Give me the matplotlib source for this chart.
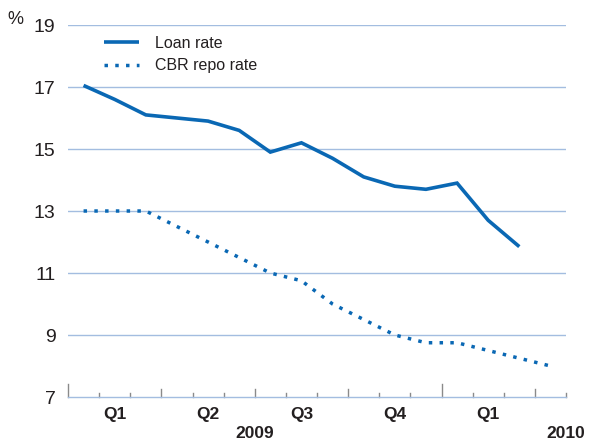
import matplotlib
matplotlib.use("Agg")
import matplotlib.pyplot as plt
import matplotlib.transforms as mtransforms
from matplotlib.lines import Line2D

plt.rcParams["font.family"] = ["Liberation Sans", "DejaVu Sans"]

# Monthly data, Jan 2009 .. Apr 2010
months = ["Jan09", "Feb09", "Mar09", "Apr09", "May09", "Jun09", "Jul09", "Aug09",
          "Sep09", "Oct09", "Nov09", "Dec09", "Jan10", "Feb10", "Mar10", "Apr10"]
loan_rate = [17.05, 16.6, 16.1, 16.0, 15.9, 15.6, 14.9, 15.2, 14.7, 14.1, 13.8, 13.7,
             13.9, 12.7, 11.85]
cbr_repo = [13.0, 13.0, 13.0, 12.5, 12.0, 11.5, 11.0, 10.75, 10.0, 9.5, 9.0, 8.75,
            8.75, 8.5, 8.25, 8.0]
quarter_labels = ["Q1", "Q2", "Q3", "Q4", "Q1"]
year_labels = ["2009", "2010"]
yticks = [7, 9, 11, 13, 15, 17, 19]

BLUE = "#0a68b4"
GRID = "#a3bde0"
TXT = "#231f20"

fig = plt.figure(figsize=(5.89, 4.41), dpi=100)
ax = fig.add_axes([68 / 589, 1 - 397 / 441, (566 - 68) / 589, (397 - 25) / 441])

x_loan = [i + 0.5 for i in range(len(loan_rate))]
x_cbr = [i + 0.5 for i in range(len(cbr_repo))]

ax.plot(x_loan, loan_rate, color=BLUE, lw=2.6, solid_joinstyle="miter",
        solid_capstyle="butt", label="Loan rate", zorder=3)
ax.plot(x_cbr, cbr_repo, color=BLUE, lw=2.5, linestyle=(0, (1, 2.1)),
        dash_capstyle="butt", label="CBR repo rate", zorder=3)

ax.set_xlim(0, len(months))
ax.set_ylim(7, 19)

for y in yticks[1:]:
    ax.axhline(y, color=GRID, lw=1.0, zorder=1)

for s in ["left", "right", "top"]:
    ax.spines[s].set_visible(False)
ax.spines["bottom"].set_color(GRID)
ax.spines["bottom"].set_linewidth(1.0)

ax.set_yticks(yticks)
ax.set_yticklabels([str(v) for v in yticks], fontsize=14, color=TXT)
ax.tick_params(axis="y", length=0, pad=9)
ax.set_xticks([])

trans = mtransforms.blended_transform_factory(ax.transData, ax.transAxes)
ax_h = (397 - 25)
for m in range(len(months) + 1):
    if m % 12 == 0:
        h = 13
    elif m % 3 == 0:
        h = 8
    else:
        h = 4
    ax.add_line(Line2D([m, m], [0, h / ax_h], transform=trans, color="#8a8a8a",
                       lw=1.0, clip_on=False, zorder=2))

for i, q in enumerate(quarter_labels):
    ax.text(i * 3 + 1.5, -17 / ax_h, q, transform=trans, ha="center", va="center",
            fontsize=12.5, fontweight="bold", color=TXT)
ax.text(6, -37 / ax_h, year_labels[0], transform=trans, ha="center", va="center",
        fontsize=12.5, fontweight="bold", color=TXT)
ax.text(16, -37 / ax_h, year_labels[1], transform=trans, ha="center", va="center",
        fontsize=12.5, fontweight="bold", color=TXT)

fig.text(15 / 589, 1 - 19 / 441, "%", ha="center", va="center", fontsize=13, color=TXT)

leg = ax.legend(loc="upper left", bbox_to_anchor=((104 - 68) / 498, (397 - 36) / 372),
                frameon=False, fontsize=11.5, handlelength=2.2, handletextpad=1.0,
                labelspacing=0.45, borderaxespad=0, borderpad=0)
for t in leg.get_texts():
    t.set_color(TXT)

fig.savefig("out.png", dpi=100)
